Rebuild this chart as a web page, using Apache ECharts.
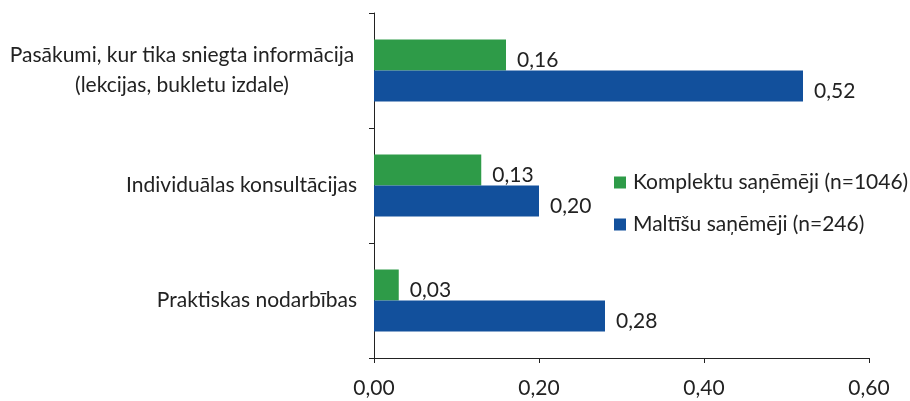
<!DOCTYPE html>
<html><head><meta charset="utf-8">
<script src="https://cdn.jsdelivr.net/npm/echarts@6/dist/echarts.min.js"></script>
<style>html,body{margin:0;padding:0;background:#fff}#c{width:910px;height:401px}</style>
</head><body><div id="c"></div>
<script>
var categories = ['Pasākumi, kur tika sniegta informācija\n(lekcijas, bukletu izdale)', 'Individuālas konsultācijas', 'Praktiskas nodarbības'];
var seriesNames = ['Komplektu saņēmēji (n=1046)', 'Maltīšu saņēmēji (n=246)'];
var komplektu = [0.16, 0.13, 0.03];
var maltisu = [0.52, 0.20, 0.28];
var xTicks = [0, 0.2, 0.4, 0.6];

var font = 'Lato';
var fs = 21;
var fmt = function (v) { return v.toFixed(2).replace('.', ','); };
var chart = echarts.init(document.getElementById('c'));
var labelCfg = {
  show: true, position: 'right', distance: 11, offset: [0, 5],
  fontFamily: font, fontSize: fs, color: '#222',
  formatter: function (p) { return fmt(p.value); }
};
chart.setOption({
  animation: false,
  textStyle: { fontFamily: font },
  grid: { left: 374, right: 41, top: 13, bottom: 43 },
  legend: {
    orient: 'vertical', left: 614, top: 172, padding: 0, itemWidth: 12, itemHeight: 12, itemGap: 21,
    icon: 'rect', textStyle: { fontFamily: font, fontSize: fs, color: '#222', padding: [0, 0, 0, 2] },
    data: seriesNames
  },
  xAxis: {
    type: 'value', min: xTicks[0], max: xTicks[xTicks.length - 1], interval: 0.2,
    axisLine: { show: true, lineStyle: { color: '#222', width: 1 } },
    axisTick: { show: true, length: 5, lineStyle: { color: '#222' } },
    splitLine: { show: false },
    axisLabel: { fontFamily: font, fontSize: fs, color: '#222', margin: 20, formatter: fmt }
  },
  yAxis: {
    type: 'category', inverse: true, data: categories,
    axisLine: { show: true, lineStyle: { color: '#222', width: 1 } },
    axisTick: { show: true, length: 5, lineStyle: { color: '#222' } },
    axisLabel: {
      fontFamily: font, fontSize: fs, color: '#222', margin: 17, lineHeight: 30,
      formatter: function (v, i) {
        if (v.indexOf('\n') >= 0) {
          return v.split('\n').map(function (s) { return '{c|' + s + '}'; }).join('\n');
        }
        return v;
      },
      rich: { c: { width: 350, align: 'center', fontFamily: font, fontSize: fs, color: '#222', lineHeight: 30 } }
    }
  },
  series: [
    { name: seriesNames[0], type: 'bar', data: komplektu, barWidth: 31, barGap: '0%',
      itemStyle: { color: '#2E9B48' }, label: labelCfg },
    { name: seriesNames[1], type: 'bar', data: maltisu, barWidth: 31, barGap: '0%',
      itemStyle: { color: '#12509C' }, label: labelCfg }
  ]
});
</script></body></html>
